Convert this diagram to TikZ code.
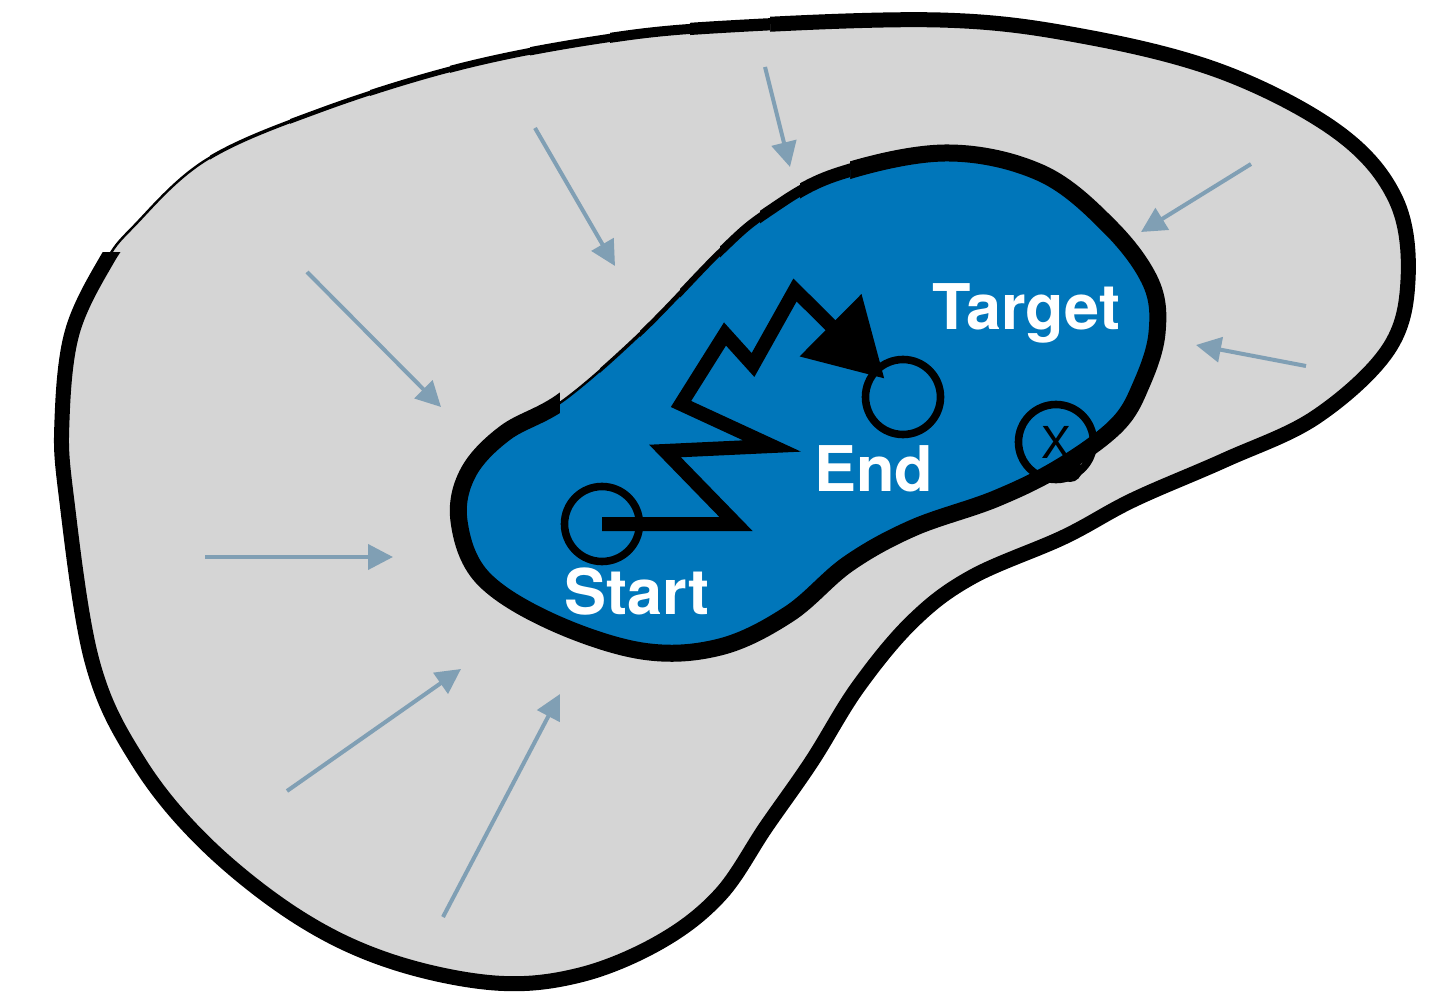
\documentclass[tikz,border=0pt]{standalone}
\usepackage{fontspec}
\setmainfont{TeX Gyre Heros}
\usetikzlibrary{arrows.meta}
\definecolor{blueA}{HTML}{0076BA}
\definecolor{greyA}{HTML}{D5D5D5}
\definecolor{arrowA}{HTML}{809FB4}
\begin{document}
\begin{tikzpicture}[x=0.5pt,y=-0.5pt,
  pusharrow/.style={draw=arrowA, line width=2pt, -{Triangle[length=12.5pt,width=12.5pt]}},
  ring/.style={circle, draw=black, line width=3.8pt, minimum size=37.5pt, inner sep=0pt},
  lbl/.style={text=white, font=\fontsize{31.5}{31.5}\selectfont\bfseries, inner sep=0pt, anchor=base west},
  walk/.style={line width=7pt, line join=miter, miter limit=12, draw=black, shorten >=13pt,
               -{Triangle[length=38pt,width=42pt]}},
  outerline/.style={draw=black, line width=7.5pt},
  innerline/.style={draw=black, line width=8.5pt}
]
\useasboundingbox (0,0) rectangle (1435,994);

% outer region
\path[save path=\outerp] plot[smooth cycle, tension=0.6] coordinates {
  (133,227) (206,160) (321,110) (459,67) (596,40) (720,27) (940,20) (1087,37)
  (1225,73) (1339,133) (1396,200) (1408,280) (1388,350) (1316,417) (1225,460)
  (1133,500) (1064,537) (972,577) (913,621) (858,687) (812,761) (766,827)
  (720,895) (660,942) (580,975) (495,983) (390,961) (298,917) (206,844)
  (138,761) (92,661) (66,494) (62,420) (72,333) (105,263)};
\fill[greyA, use path=\outerp];
\draw[outerline, use path=\outerp];
% brush taper of the outer outline (top left)
\foreach \xa/\xb/\w in {0/210/1.2, 210/290/1.7, 290/370/2.2, 370/450/2.8,
                         450/530/3.4, 530/610/4.1, 610/690/5.0, 690/770/6.1} {
  \begin{scope}
    \clip (\xa,0) rectangle (\xb,252);
    \fill[white] (\xa,0) rectangle (\xb,252);
    \fill[greyA, use path=\outerp];
    \draw[draw=black, line width=\w pt, use path=\outerp];
  \end{scope}
}

% inner (target) region
\path[save path=\innerp] plot[smooth cycle, tension=0.6] coordinates {
  (564,400) (642,332) (720,252) (766,213) (835,175) (945,153) (1041,173)
  (1110,227) (1151,283) (1157,333) (1142,383) (1117,425) (1060,467)
  (995,499) (913,528) (848,564) (789,614) (720,647) (642,651) (550,621)
  (482,577) (459,521) (468,473) (505,433)};
\fill[blueA, use path=\innerp];
\draw[innerline, use path=\innerp];
% brush taper of the inner outline (upper left)
\foreach \xa/\xb/\w in {560/600/1.2, 600/640/1.7, 640/680/2.3, 680/720/3.0,
                         720/760/4.0, 760/800/5.2, 800/850/6.6} {
  \begin{scope}
    \clip (\xa,140) rectangle (\xb,445);
    \fill[greyA] (\xa,140) rectangle (\xb,445);
    \fill[blueA, use path=\innerp];
    \draw[draw=black, line width=\w pt, use path=\innerp];
  \end{scope}
}
\fill[black] (1070,470) circle (12);

% inward arrows
\coordinate (a1s) at (535,128);  \coordinate (a1e) at (615,266);
\coordinate (a2s) at (765,67);   \coordinate (a2e) at (790,167);
\coordinate (a3s) at (1251,164); \coordinate (a3e) at (1141,232);
\coordinate (a4s) at (1306,366); \coordinate (a4e) at (1196,345);
\coordinate (a5s) at (307,272);  \coordinate (a5e) at (441,407);
\coordinate (a6s) at (205,557);  \coordinate (a6e) at (393,557);
\coordinate (a7s) at (287,791);  \coordinate (a7e) at (461,669);
\coordinate (a8s) at (443,917);  \coordinate (a8e) at (560,694);
\foreach \i in {1,...,8} {\draw[pusharrow] (a\i s) -- (a\i e);}

% states
\node[ring] (start) at (602,524) {};
\node[ring] (end) at (903,397) {};
\node[ring, font=\fontsize{22}{22}\selectfont] (xmark) at (1056,442) {X};

% random walk
\draw[walk] (start.center) -- (736,524) -- (665,451) -- (772,446) -- (681,404)
  -- (725,334) -- (753,365) -- (795,290) -- (end.center);

% labels
\node[lbl] (target) at (932,330) {Target};
\node[lbl] (endlbl) at (814,492) {End};
\node[lbl] (startlbl) at (564,614) {Start};
\end{tikzpicture}
\end{document}
